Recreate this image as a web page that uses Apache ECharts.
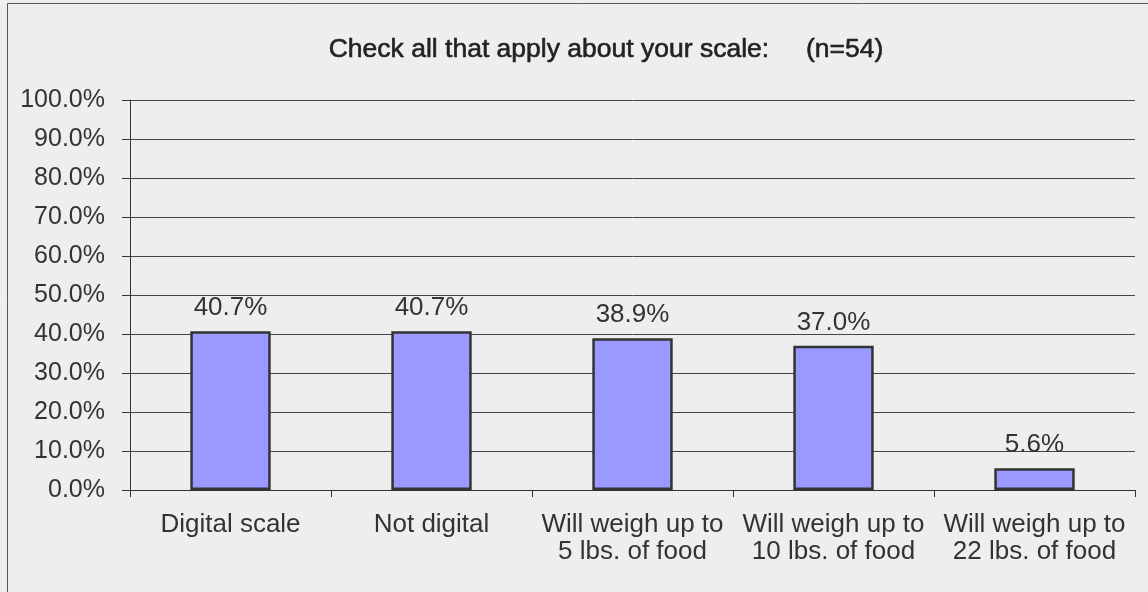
<!DOCTYPE html>
<html>
<head>
<meta charset="utf-8">
<script src="https://cdn.jsdelivr.net/npm/echarts@6/dist/echarts.min.js"></script>
<style>
  html, body { margin: 0; padding: 0; background: #eeeeee; }
  #chart { width: 1148px; height: 592px; }
</style>
</head>
<body>
<div id="chart"></div>
<script>
// Survey responses: features of respondents' kitchen scales
const titleText = 'Check all that apply about your scale:     (n=54)';
const categories = [
  'Digital scale',
  'Not digital',
  'Will weigh up to\n5 lbs. of food',
  'Will weigh up to\n10 lbs. of food',
  'Will weigh up to\n22 lbs. of food'
];
const percentValues = [40.7, 40.7, 38.9, 37.0, 5.6];

const font = 'Liberation Sans, Arial, sans-serif';
const textColor = '#333333';

const chart = echarts.init(document.getElementById('chart'), null, { renderer: 'canvas' });

chart.setOption({
  backgroundColor: '#eeeeee',
  animation: false,
  graphic: [{
    type: 'rect',
    shape: { x: 7.5, y: 3.5, width: 1300, height: 800 },
    style: { fill: 'none', stroke: '#555555', lineWidth: 1 },
    silent: true
  }],
  title: {
    text: titleText,
    left: 601,
    top: 31,
    textAlign: 'center',
    textStyle: { fontFamily: font, fontSize: 26.5, fontWeight: 'normal', color: '#222222', textBorderColor: '#222222', textBorderWidth: 0.6 }
  },
  grid: { left: 130, right: 13, top: 100, bottom: 102, containLabel: false },
  xAxis: {
    type: 'category',
    data: categories,
    axisLine: { show: true, lineStyle: { color: '#333333', width: 1 } },
    axisTick: { show: true, alignWithLabel: false, length: 7, lineStyle: { color: '#333333' } },
    axisLabel: {
      interval: 0,
      margin: 21,
      fontFamily: font,
      fontSize: 26,
      lineHeight: 27,
      color: textColor,
      align: 'center'
    }
  },
  yAxis: {
    type: 'value',
    min: 0,
    max: 100,
    interval: 10,
    axisLine: { show: true, lineStyle: { color: '#333333', width: 1 } },
    axisTick: { show: true, inside: false, length: 8, lineStyle: { color: '#333333' } },
    splitLine: { show: true, lineStyle: { color: '#444444', width: 1 } },
    axisLabel: {
      margin: 25,
      fontFamily: font,
      fontSize: 25,
      color: textColor,
      formatter: v => v.toFixed(1) + '%'
    }
  },
  series: [{
    type: 'bar',
    data: percentValues,
    barWidth: '40%',
    itemStyle: { color: '#9999ff', borderColor: '#333333', borderWidth: 2.5 },
    label: {
      show: true,
      position: 'top',
      distance: 10,
      fontFamily: font,
      fontSize: 26,
      color: textColor,
      formatter: p => p.value.toFixed(1) + '%'
    }
  }]
});
</script>
</body>
</html>
